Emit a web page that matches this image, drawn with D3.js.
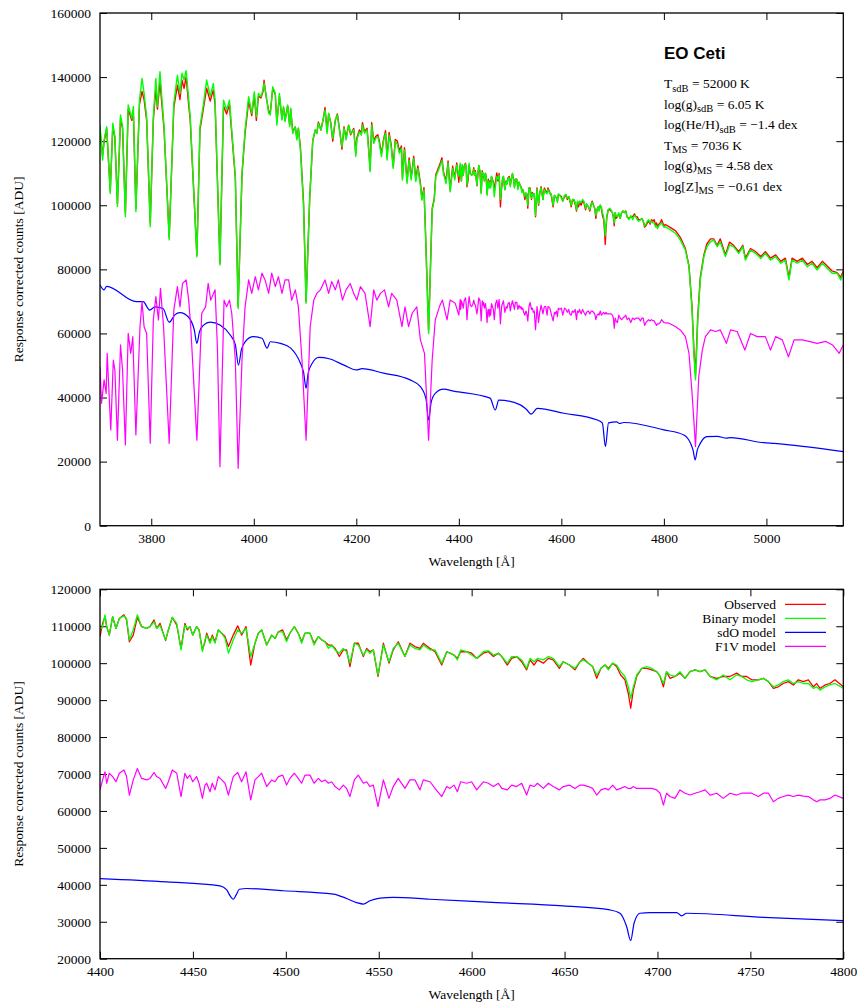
<!DOCTYPE html>
<html>
<head>
<meta charset="utf-8">
<script src="https://cdn.jsdelivr.net/npm/d3@7"></script>
<style>
  body { margin: 0; background: #fff; }
  svg text { font-family: "Liberation Serif", "Times New Roman", serif; fill: #000; }
</style>
</head>
<body>
<svg id="chart"></svg>
<script>
// all flux values are in units of 1000 ADU

// ---- top panel: full spectrum (4400-4800 comes from the zoom arrays below) ----
const topWave = [
  3700,3705,3708,3713,3720,3725,3729,3734,3740,3744,
  3749.5,3755,3762,3765,3770,3777,3782,3786,3791,3798,
  3804,3809,3812,3817,3821,3825,3835,3844,3851,3856,
  3860,3864,3868,3872,3876,3889,3895,3902,3908,3915,
  3921,3924.5,3934,3941,3947,3952.5,3958,3964,3969.5,3977,
  3983,3990,3996,4001,4005,4009,4014,4018,4020,4024,
  4029,4032,4037,4042,4045,4050,4055,4058,4061,4066,
  4070,4072,4076,4081,4084,4087,4091,4097,4102,4109,
  4115,4120,4123,4126,4131,4135,4139,4143,4146,4150,
  4154,4159,4163,4167,4172,4176,4180,4185,4189,4195,
  4199,4201,4206,4210,4212,4216,4221,4224,4227,4230,
  4234,4238,4242,4245,4249,4253,4257,4260,4264,4268,
  4272,4276,4280,4284,4288,4290,4294,4299,4303,4307,
  4312,4316,4320,4325,4328,4332,4335,4341,4348,4352,
  4355,4359,4364,4367,4370,4375,4379,4383,4388,4392,
  4396,
  4803,4813,4823,4832,4842,4849,4855,4858.5,4861.7,4866,
  4871,4878,4884,4891,4897,4904,4910,4920,4928,4936,
  4946,4954,4959,4969,4979,4989,4998,5008,5018,5028,
  5037,5044,5050,5060,5070,5080,5089,5099,5109,5119,
  5128,5138,5145,5150
];
const topObserved = [
  123.5,115.5,119.8,124.0,104.5,124.8,121.0,100.5,127.0,124.0,
  97.5,130.0,126.5,129.5,99.0,131.5,135.5,133.0,126.5,94.5,
  126.5,136.5,130.0,138.5,131.0,123.5,90.0,130.5,137.5,133.0,
  139.0,136.5,140.0,133.0,126.5,84.5,123.5,130.5,136.5,132.5,
  136.0,131.5,82.0,131.0,128.5,131.5,120.5,108.5,68.5,109.5,
  122.5,132.5,128.0,134.5,126.5,134.0,133.5,135.5,139.0,134.0,
  129.5,128.5,136.5,134.5,126.0,134.0,127.0,130.5,126.5,131.0,
  125.0,130.0,123.0,124.5,121.0,124.0,118.0,101.0,70.0,102.0,
  120.0,123.5,122.5,126.0,123.5,126.5,130.5,123.0,128.5,126.0,
  120.0,126.5,128.5,124.0,117.5,124.5,121.0,125.0,122.0,124.0,
  116.0,121.0,123.5,122.5,125.8,123.0,124.0,118.0,111.0,125.8,
  120.0,121.5,122.0,120.0,116.0,120.5,123.3,115.0,122.7,119.0,
  112.0,120.5,120.0,117.0,118.5,108.5,118.0,107.5,114.8,108.5,
  115.3,108.0,112.3,107.0,102.0,105.5,91.5,61.0,99.0,102.0,
  109.5,111.2,113.3,114.8,110.5,107.5,113.8,104.8,112.2,108.5,
  113.2,
  94.0,93.0,92.0,90.0,86.5,81.0,68.0,55.0,47.0,65.0,
  77.5,84.5,88.0,89.5,89.5,87.5,89.5,84.5,88.5,87.5,
  85.5,87.5,83.5,86.5,85.5,84.0,85.5,83.5,84.5,82.5,
  83.5,77.5,83.5,82.5,83.5,81.5,82.5,80.5,82.5,81.0,
  79.5,79.0,77.5,79.5
];
const topBinary = [
  125.0,114.1,120.4,124.5,103.7,125.6,121.4,99.6,128.2,124.5,
  96.4,131.3,127.1,130.8,98.0,132.8,139.6,134.9,127.6,93.3,
  127.6,139.6,130.8,141.7,132.8,124.5,89.2,131.8,140.6,134.9,
  141.2,139.1,142.0,134.9,127.6,83.9,124.5,131.8,139.1,133.9,
  138.0,132.8,81.4,132.8,129.7,132.8,121.4,108.9,67.8,110.0,
  123.5,133.9,128.7,135.4,127.6,134.9,133.9,136.0,138.1,134.4,
  128.7,128.2,137.0,134.9,125.0,134.9,126.6,130.8,126.1,131.3,
  124.5,130.3,122.4,124.5,120.4,124.1,117.2,100.0,69.4,101.6,
  120.4,123.5,122.4,125.6,123.5,126.6,129.7,122.4,128.7,125.6,
  120.9,126.6,128.2,123.5,118.3,124.1,120.4,125.0,122.4,123.5,
  115.2,120.4,122.9,121.9,125.0,122.5,123.5,117.2,110.5,125.0,
  119.3,120.9,121.4,119.3,115.2,120.0,122.5,114.1,121.9,118.3,
  111.5,120.0,119.0,116.2,117.8,107.9,117.2,106.8,114.1,107.9,
  114.6,107.4,111.5,106.3,101.6,104.8,91.2,60.0,98.5,101.6,
  108.9,110.5,112.6,114.0,109.9,106.8,113.1,104.2,111.5,107.9,
  112.6,
  93.3,92.3,91.2,89.2,86.0,80.8,67.3,53.8,45.5,64.2,
  76.7,84.0,87.1,88.6,89.2,87.1,88.6,84.0,87.6,87.1,
  85.0,87.1,82.9,86.0,85.0,83.4,85.0,82.9,84.0,81.9,
  82.9,76.7,82.9,81.9,82.9,80.8,81.9,79.8,81.9,80.3,
  78.8,78.8,76.7,78.8
];

const topSdoWave = [
  3700,3708,3713,3771,3784,3797,3807,3823,3835,3846,
  3856,3872,3884,3889,3894,3902,3915,3934,3954,3964,
  3970,3976,3983,3999,4016,4026,4032,4052,4072,4091,
  4097,4102,4106,4114,4127,4147,4176,4200,4211,4253,
  4305,4325,4336,4341,4346,4354,4370,4390,4461,4471,
  4478,4520,4533,4541,4553,4605,4670,4680,4686,4692,
  4708,4713,4722,4800,4839,4852,4857,4861,4865,4871,
  4884,4904,4922,4930,4995,5015,5150
];
const topSdo = [
  75.1,73.6,74.7,69.9,69.9,67.3,68.3,67.8,63.5,65.8,
  66.5,65.2,61.0,56.9,60.5,62.6,63.5,62.6,59.5,56.5,
  50.1,55.0,57.4,59.0,58.5,55.4,57.4,56.9,55.4,50.7,
  48.0,42.9,47.5,50.7,52.5,52.1,50.1,48.6,49.0,47.6,
  45.5,43.4,39.5,33.0,38.5,41.3,42.6,42.0,39.8,36.1,
  39.2,37.7,36.1,34.8,36.6,35.1,33.0,32.0,24.7,32.1,
  32.4,31.9,32.2,29.9,28.3,25.7,23.5,20.5,23.5,25.7,
  27.8,27.9,27.3,27.5,25.9,25.7,23.1
];

const topF1vWave = [
  3700,3703,3708,3712,3714,3721,3726,3729,3734,3740,
  3744,3749.5,3755,3760,3764,3770,3778,3782,3786,3791,
  3798,3804,3809,3814,3818,3824,3835,3844,3851,3856,
  3861,3868,3873,3877,3889,3898.5,3906,3911,3916,3924.5,
  3929,3934,3942,3947,3952.5,3957,3964,3969.5,3977,3983,
  3990,3996,4003,4009,4016,4022,4029,4035,4042,4048,
  4055,4061,4068,4074,4081,4087,4094,4102,4110,4117,
  4123,4130,4139,4146,4152,4159,4165,4173,4180,4188,
  4195,4201,4208,4217,4227,4234,4240,4247,4255,4263,
  4269,4279,4289,4295,4302,4309,4318,4325,4333,4341,
  4348,4354,4362,4368,4377,4383,4393,4403,4416,4426,
  4432,4439,4445,4455,4461,4468,4474.5,4482,4487.5,4497,
  4507,4517,4527,4540,4549,4559,4572,4582,4595,4611,
  4631,4647,4666,4683,4696,4704,4715,4735,4748,4764,
  4777,4787,4797,4810,4823,4832,4842,4849,4855,4861.7,
  4868,4875,4881,4891,4901,4910,4922,4930,4943,4958,
  4969,4982,4998,5008,5018,5031,5043,5054,5070,5083,
  5099,5116,5129,5142,5150
];
const topF1v = [
  49.6,38.2,45.5,41.3,53.8,29.9,51.7,48.6,26.7,56.4,
  48.6,25.2,60.0,53.8,59.0,28.3,62.1,69.9,62.1,60.0,
  25.7,64.2,71.5,64.2,74.1,62.1,25.7,67.3,74.6,68.3,
  75.6,76.7,70.4,62.1,26.7,66.3,68.3,75.6,70.4,73.6,
  55.9,18.4,70.4,68.3,70.4,66.3,51.7,17.9,51.7,68.3,
  76.7,72.5,77.7,73.6,78.8,76.7,72.5,78.8,74.6,77.7,
  72.5,76.7,76.7,70.4,73.6,68.3,51.7,26.7,62.1,70.4,
  72.5,73.6,76.7,72.5,76.2,73.6,76.7,70.4,73.6,75.6,
  72.5,70.4,74.6,72.5,62.1,73.6,70.4,72.5,73.6,68.3,
  72.5,70.4,62.1,68.3,62.1,66.3,68.3,58.0,53.8,26.7,
  51.7,64.2,68.3,70.4,64.2,70.4,69.4,71.5,65.2,71.5,
  66.3,71.0,64.2,68.3,64.2,69.9,66.3,63.2,70.4,67.3,
  69.9,67.8,66.3,69.4,61.6,67.8,68.3,65.2,67.3,67.8,
  65.2,66.8,65.2,66.3,65.2,62.1,65.2,64.7,64.2,62.7,
  64.7,63.2,63.7,63.2,62.1,61.1,59.0,53.8,41.3,24.7,
  46.5,54.8,59.0,61.1,60.6,61.1,56.9,61.1,60.6,54.8,
  60.0,59.0,59.0,54.8,59.0,58.0,52.7,58.0,58.0,57.5,
  56.9,57.5,56.4,53.8,56.4
];

// ---- bottom panel: 4400-4800 zoom ----
const zoomWave = [
  4400.0,4401.4,4402.7,4403.6,4405.0,4406.8,4408.6,4410.4,4412.9,4414.3,
  4415.8,4417.9,4420.1,4422.4,4425.1,4426.9,4429.1,4430.5,4432.3,4435.3,
  4436.8,4438.9,4441.3,4443.6,4445.7,4447.0,4448.4,4449.9,4452.0,4453.3,
  4455.1,4456.5,4457.4,4459.2,4460.4,4461.9,4463.7,4465.5,4467.3,4469.1,
  4471.7,4474.1,4476.2,4478.6,4481.1,4483.4,4485.2,4487.0,4489.7,4492.4,
  4494.2,4496.0,4498.3,4500.4,4502.2,4504.6,4506.7,4508.5,4510.3,4513.0,
  4515.2,4517.5,4519.3,4521.1,4522.9,4524.7,4526.5,4528.8,4530.9,4532.7,
  4534.5,4536.9,4539.0,4541.7,4543.5,4545.3,4547.1,4549.6,4552.5,4555.5,
  4557.8,4560.5,4564.1,4566.8,4569.5,4572.2,4574.0,4577.6,4580.3,4583.9,
  4586.6,4588.4,4590.5,4592.3,4594.1,4597.3,4600.0,4602.7,4606.3,4609.0,
  4611.7,4614.4,4616.2,4619.2,4621.5,4624.2,4626.9,4629.6,4631.4,4633.6,
  4635.4,4638.6,4641.3,4643.9,4647.2,4649.3,4652.6,4655.6,4658.3,4660.1,
  4662.8,4665.1,4667.3,4669.6,4671.8,4673.6,4675.9,4678.0,4680.2,4682.5,
  4684.3,4685.6,4687.0,4688.8,4691.5,4694.2,4696.9,4699.6,4701.4,4703.2,
  4704.9,4706.7,4709.4,4712.1,4714.8,4717.5,4720.2,4722.9,4725.6,4728.3,
  4731.9,4735.4,4739.0,4742.6,4745.3,4748.0,4750.7,4754.3,4757.0,4759.7,
  4762.4,4765.0,4767.7,4770.4,4773.1,4775.8,4778.5,4781.2,4783.9,4785.7,
  4787.5,4790.2,4792.8,4795.5,4800.0
];
const zoomObserved = [
  107.2,110.8,112.6,109.9,107.6,112.6,109.4,112.1,113.1,111.7,
  105.8,107.6,112.4,109.9,109.4,109.9,111.7,109.4,110.8,106.1,
  109.0,112.4,110.3,104.0,110.8,109.0,109.9,107.6,109.9,109.0,
  103.6,105.8,108.1,105.8,107.6,105.8,109.0,108.1,107.2,104.5,
  107.6,110.1,107.6,109.9,99.5,105.4,108.1,109.0,104.9,107.6,
  106.7,108.5,109.0,106.3,108.1,109.9,108.1,105.8,108.1,108.1,
  105.4,107.2,106.3,105.8,104.9,104.9,104.0,101.8,103.6,103.6,
  99.1,105.4,105.4,101.8,104.0,103.1,103.6,96.4,105.4,100.0,
  103.6,105.8,101.8,105.4,104.5,104.0,105.4,104.0,103.1,99.5,
  103.1,102.7,102.2,101.3,103.1,103.1,102.7,101.3,102.7,103.1,
  101.8,102.7,101.8,99.5,101.3,101.8,100.4,98.2,100.9,99.5,
  100.9,100.0,101.3,100.9,98.6,100.4,99.5,98.2,100.4,101.3,
  100.0,99.1,95.9,98.6,99.5,98.6,100.0,99.1,96.8,95.5,
  91.8,87.8,92.7,96.4,98.6,98.6,98.2,97.7,96.4,93.6,
  97.7,95.9,96.4,97.3,95.9,97.7,98.2,97.7,98.2,96.4,
  95.9,96.4,96.4,97.3,96.4,96.4,95.5,95.5,95.9,95.0,
  93.2,93.6,94.5,95.0,94.1,95.5,95.0,95.5,93.6,94.5,
  93.2,94.1,94.5,95.5,93.6
];
const zoomBinary = [
  109.0,109.9,113.1,109.9,107.6,112.6,109.4,112.1,112.8,112.1,
  106.3,109.0,113.1,109.9,109.4,109.9,111.2,109.4,110.3,106.3,
  109.0,112.4,110.8,103.6,110.3,109.4,109.9,107.6,109.9,109.0,
  103.1,106.3,107.6,105.4,107.2,105.4,109.0,108.1,106.7,102.7,
  106.3,109.0,108.1,109.4,101.8,105.4,108.1,109.0,104.9,107.6,
  106.7,108.5,108.5,105.8,108.1,109.9,108.1,105.4,108.1,108.1,
  104.9,107.2,106.3,105.8,104.0,104.9,103.6,102.7,104.0,103.1,
  100.0,105.4,104.9,102.2,103.6,102.7,103.6,96.8,104.9,100.4,
  104.0,105.4,101.8,104.9,104.0,103.6,104.9,103.6,103.6,100.0,
  103.1,102.7,102.2,100.9,103.6,103.1,102.2,101.3,103.1,103.4,
  102.2,102.7,101.8,100.0,101.8,101.8,100.9,98.6,101.3,100.4,
  101.3,100.9,101.8,101.3,99.1,100.4,99.5,98.6,100.4,100.9,
  100.0,99.1,96.8,98.6,99.5,98.2,100.0,99.5,97.7,96.4,
  93.6,90.5,93.6,96.8,98.6,99.1,98.6,97.7,96.4,94.5,
  97.7,96.8,96.4,97.7,95.9,97.7,98.2,97.7,98.2,96.4,
  95.5,96.8,95.5,96.8,96.4,95.5,95.0,95.5,95.9,95.0,
  93.6,94.1,95.0,95.5,94.5,95.0,94.5,94.5,93.2,93.6,
  92.7,93.6,94.1,94.5,93.2
];
const zoomF1v = [
  65.7,68.4,70.6,67.5,70.2,69.3,67.9,70.2,71.1,69.3,
  64.3,68.4,71.5,68.8,68.4,68.8,70.4,69.3,68.8,66.1,
  67.9,71.1,70.2,63.9,70.2,68.8,69.7,67.9,69.3,67.5,
  63.4,67.0,67.5,65.2,67.5,65.7,69.3,68.4,67.5,64.3,
  69.3,70.4,67.9,70.6,63.0,68.4,69.3,70.2,66.6,68.4,
  67.9,69.3,69.7,67.0,68.8,70.2,68.8,67.5,69.7,69.7,
  67.5,68.8,67.9,68.4,67.5,67.9,66.6,65.7,67.0,66.1,
  63.9,68.4,69.7,67.5,67.9,66.6,67.0,61.2,68.4,63.4,
  66.6,68.8,66.1,68.4,68.4,65.7,68.4,67.9,66.1,63.9,
  66.6,66.1,67.0,65.2,67.9,67.5,67.9,65.7,67.9,67.5,
  66.6,67.5,66.1,65.7,67.0,66.6,67.5,64.3,67.0,66.6,
  67.5,66.1,67.5,66.6,65.7,66.6,67.0,66.1,67.0,67.0,
  66.6,66.1,64.3,65.7,66.1,65.7,67.0,65.7,66.1,66.6,
  66.1,66.1,66.6,66.1,66.1,66.1,66.1,65.7,64.8,61.6,
  64.8,63.9,63.4,65.7,64.8,64.3,64.8,65.2,65.7,64.3,
  64.8,63.4,64.8,64.3,64.8,64.8,64.8,63.9,64.8,64.8,
  62.5,63.4,63.9,64.3,63.9,64.3,64.0,63.9,63.0,62.5,
  63.0,63.0,63.4,64.3,63.4
];
const zoomSdoWave = [
  4400,4435.9,4464.6,4468.2,4470.3,4471.7,4473.2,4475,4479,4498.7,
  4525.6,4532.7,4538.1,4541.7,4545.3,4550.7,4557.8,4577.6,4613.5,4649.3,
  4674.5,4679.8,4683.4,4685.6,4687.4,4690.6,4696,4710.3,4713,4715.7,
  4757,4800
];
const zoomSdo = [
  41.7,40.8,39.7,38.6,36.8,36.1,37.2,38.8,39.0,38.4,
  37.5,36.3,35.2,34.8,35.7,36.4,36.6,36.1,35.2,34.3,
  33.2,32.3,28.7,24.9,29.6,32.3,32.5,32.5,31.6,32.3,
  31.2,30.3
];

const seriesNames = ["Observed", "Binary model", "sdO model", "F1V model"];
const seriesColors = ["#ff0000", "#00ff00", "#0000ff", "#ff00ff"];

const topXTicks = [3800, 4000, 4200, 4400, 4600, 4800, 5000];
const topYTicks = [0, 20000, 40000, 60000, 80000, 100000, 120000, 140000, 160000];
const zoomXTicks = [4400, 4450, 4500, 4550, 4600, 4650, 4700, 4750, 4800];
const zoomYTicks = [20000, 30000, 40000, 50000, 60000, 70000, 80000, 90000, 100000, 110000, 120000];

const starName = "EO Ceti";
const fitParams = [
  ["T", "sdB", " = 52000 K"],
  ["log(g)", "sdB", " = 6.05 K"],
  ["log(He/H)", "sdB", " = \u22121.4 dex"],
  ["T", "MS", " = 7036 K"],
  ["log(g)", "MS", " = 4.58 dex"],
  ["log[Z]", "MS", " = \u22120.61 dex"]
];

// pair up wavelength / value arrays
const pairs = (w, v) => w.map((d, i) => [d, v[i]]);
const joined = (w, v, zw, zv) =>
  pairs(w, v).filter(d => d[0] < 4400)
    .concat(pairs(zw, zv))
    .concat(pairs(w, v).filter(d => d[0] > 4800));

const width = 859, height = 1003;
const svg = d3.select("#chart").attr("width", width).attr("height", height);
svg.append("rect").attr("width", width).attr("height", height).attr("fill", "#fff");

const left = 100, right = 843.3;
const fontSize = 13.5;

function drawPanel(cfg) {
  const x = d3.scaleLinear().domain(cfg.xDomain).range([left, right]);
  const y = d3.scaleLinear().domain(cfg.yDomain).range([cfg.bottom, cfg.top]);

  svg.append("clipPath").attr("id", "clip-" + cfg.id)
    .append("rect")
    .attr("x", left).attr("y", cfg.top)
    .attr("width", right - left).attr("height", cfg.bottom - cfg.top);

  const g = svg.append("g");

  //axes, gnuplot style: ticks pointing inwards on all four sides
  const styleAxis = sel => {
    sel.select(".domain").remove();
    sel.attr("font-size", fontSize);
    sel.selectAll(".tick line").attr("stroke", "#000");
  };
  g.append("g").attr("transform", "translate(0," + cfg.bottom + ")")
    .call(d3.axisBottom(x).tickValues(cfg.xTicks).tickSizeInner(-7).tickSizeOuter(0)
      .tickPadding(8).tickFormat(d3.format("d")))
    .call(styleAxis);
  g.append("g").attr("transform", "translate(0," + cfg.top + ")")
    .call(d3.axisTop(x).tickValues(cfg.xTicks).tickSizeInner(-7).tickSizeOuter(0).tickFormat(""))
    .call(styleAxis);
  g.append("g").attr("transform", "translate(" + left + ",0)")
    .call(d3.axisLeft(y).tickValues(cfg.yTicks).tickSizeInner(-7).tickSizeOuter(0)
      .tickPadding(9).tickFormat(d3.format("d")))
    .call(styleAxis);
  g.append("g").attr("transform", "translate(" + right + ",0)")
    .call(d3.axisRight(y).tickValues(cfg.yTicks).tickSizeInner(-7).tickSizeOuter(0).tickFormat(""))
    .call(styleAxis);

  const plot = g.append("g").attr("clip-path", "url(#clip-" + cfg.id + ")");
  cfg.series.forEach(s => {
    const line = d3.line()
      .x(d => x(d[0]))
      .y(d => y(d[1] * 1000))
      .curve(s.curve || d3.curveLinear);
    plot.append("path")
      .datum(s.points)
      .attr("fill", "none")
      .attr("stroke", s.color)
      .attr("stroke-width", s.width)
      .attr("stroke-linejoin", "round")
      .attr("d", line);
  });

  g.append("rect")
    .attr("x", left).attr("y", cfg.top)
    .attr("width", right - left).attr("height", cfg.bottom - cfg.top)
    .attr("fill", "none").attr("stroke", "#000").attr("stroke-width", 1.3);

  g.append("text")
    .attr("x", (left + right) / 2).attr("y", cfg.bottom + 40)
    .attr("text-anchor", "middle").attr("font-size", fontSize)
    .text("Wavelength [\u00c5]");

  g.append("text")
    .attr("transform", "translate(23," + (cfg.top + cfg.bottom) / 2 + ") rotate(-90)")
    .attr("text-anchor", "middle").attr("font-size", fontSize)
    .text("Response corrected counts [ADU]");

  return { x, y, g };
}

const topPanel = drawPanel({
  id: "top", top: 13, bottom: 525.7,
  xDomain: [3700, 5150], yDomain: [0, 160000],
  xTicks: topXTicks, yTicks: topYTicks,
  series: [
    { points: joined(topWave, topObserved, zoomWave, zoomObserved), color: seriesColors[0], width: 1.4 },
    { points: joined(topWave, topBinary, zoomWave, zoomBinary), color: seriesColors[1], width: 1.4 },
    { points: pairs(topSdoWave, topSdo), color: seriesColors[2], width: 1.2, curve: d3.curveMonotoneX },
    { points: joined(topF1vWave, topF1v, zoomWave, zoomF1v), color: seriesColors[3], width: 1.2 }
  ]
});

// star name + fitted parameters
topPanel.g.append("text")
  .attr("x", 664).attr("y", 59)
  .style("font-family", "'Liberation Sans', Arial, sans-serif")
  .attr("font-weight", "bold").attr("font-size", 17)
  .text(starName);

const paramText = topPanel.g.selectAll(".param")
  .data(fitParams)
  .enter()
  .append("text")
  .attr("class", "param")
  .attr("x", 664)
  .attr("y", (d, i) => 88 + i * 20.5)
  .attr("font-size", fontSize);
paramText.append("tspan").text(d => d[0]);
paramText.append("tspan").attr("dy", 3.5).attr("font-size", 10.5).text(d => d[1]);
paramText.append("tspan").attr("dy", -3.5).text(d => d[2]);

const bottomPanel = drawPanel({
  id: "zoom", top: 589.3, bottom: 958.7,
  xDomain: [4400, 4800], yDomain: [20000, 120000],
  xTicks: zoomXTicks, yTicks: zoomYTicks,
  series: [
    { points: pairs(zoomWave, zoomObserved), color: seriesColors[0], width: 1.3 },
    { points: pairs(zoomWave, zoomBinary), color: seriesColors[1], width: 1.3 },
    { points: pairs(zoomSdoWave, zoomSdo), color: seriesColors[2], width: 1.2, curve: d3.curveMonotoneX },
    { points: pairs(zoomWave, zoomF1v), color: seriesColors[3], width: 1.2 }
  ]
});

// legend
const legend = bottomPanel.g.selectAll(".legend")
  .data(seriesNames)
  .enter()
  .append("g")
  .attr("class", "legend")
  .attr("transform", (d, i) => "translate(0," + (604.3 + i * 14) + ")");
legend.append("text")
  .attr("x", 776).attr("dy", "0.33em")
  .attr("text-anchor", "end").attr("font-size", fontSize)
  .text(d => d);
legend.append("line")
  .attr("x1", 785).attr("x2", 826)
  .attr("stroke", (d, i) => seriesColors[i])
  .attr("stroke-width", 1.3);
</script>
</body>
</html>
